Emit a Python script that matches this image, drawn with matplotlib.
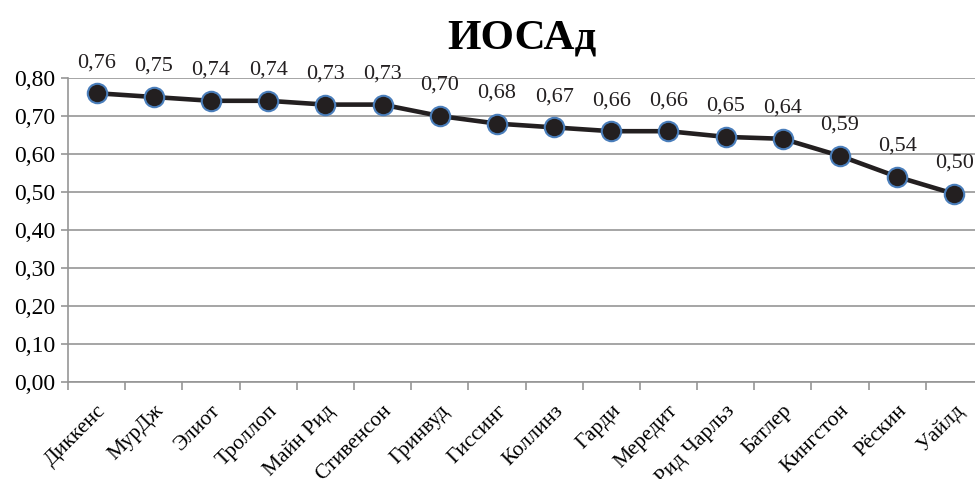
import matplotlib.pyplot as plt
import numpy as np

plt.rcParams['font.family'] = ['Liberation Serif', 'DejaVu Serif']

authors = ['Диккенс', 'МурДж', 'Элиот', 'Троллоп', 'Майн Рид', 'Стивенсон',
           'Гринвуд', 'Гиссинг', 'Коллинз', 'Гарди', 'Мередит', 'Рид Чарльз',
           'Батлер', 'Кингстон', 'Рёскин', 'Уайлд']
values = [0.76, 0.75, 0.74, 0.74, 0.73, 0.73, 0.70, 0.68, 0.67, 0.66, 0.66,
          0.645, 0.64, 0.595, 0.54, 0.495]
labels = ['0,76', '0,75', '0,74', '0,74', '0,73', '0,73', '0,70', '0,68',
          '0,67', '0,66', '0,66', '0,65', '0,64', '0,59', '0,54', '0,50']

fig = plt.figure(figsize=(9.75, 4.79), dpi=100)
ax = fig.add_axes([68/975, 97/479, 915/975, 304/479])

x = np.arange(len(authors))
ax.plot(x, values, color='#231f20', lw=3.3, marker='o', markersize=14,
        markerfacecolor='#231f20', markeredgecolor='#4a7ebb', markeredgewidth=1.5,
        zorder=3, clip_on=False)

for xi, v, lab in zip(x, values, labels):
    ax.annotate(lab, (xi, v), xytext=(0, 22), textcoords='offset points',
                ha='center', va='center', fontsize=16, color='#231f20')

ax.set_xlim(-0.5, len(authors) - 0.5)
ax.set_ylim(0, 0.8)
yt = np.arange(0, 0.81, 0.1)
ax.set_yticks(yt)
ax.set_yticklabels([('%.2f' % t).replace('.', ',') for t in yt], fontsize=17)
ax.yaxis.grid(True, color='#969696', lw=1.2)
ax.set_axisbelow(True)

ax.set_xticks(x)
ax.set_xticklabels(authors, rotation=45, ha='right', rotation_mode='anchor',
                   fontsize=15.5)
ax.set_xticks(np.arange(-0.5, len(authors)), minor=True)
ax.tick_params(axis='x', which='major', length=0, pad=14)
ax.tick_params(axis='x', which='minor', length=6, color='#969696', width=1.2)
ax.tick_params(axis='y', length=5, color='#969696', width=1.2, pad=4)

for s in ['top', 'right']:
    ax.spines[s].set_visible(False)
for s in ['left', 'bottom']:
    ax.spines[s].set_color('#969696')
    ax.spines[s].set_linewidth(1.2)

fig.text(522/975, 1 - 38/479, 'ИОСАд', ha='center', va='center',
         fontsize=31, fontweight='bold')

fig.savefig('out.png', dpi=100)
